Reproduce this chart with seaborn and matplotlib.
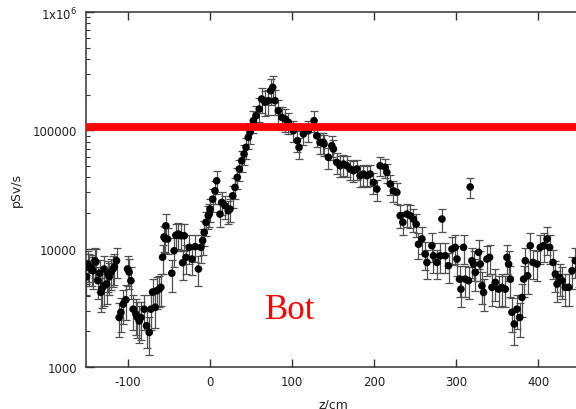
import numpy as np
import matplotlib
matplotlib.use("Agg")
import matplotlib.pyplot as plt
import seaborn as sns
from matplotlib.ticker import FixedLocator, FixedFormatter, LogLocator, NullFormatter

# ---- data ----
z_cm = [-150.4, -148.5, -147.0, -144.3, -142.9, -140.2, -139.0, -136.6, -134.5, -132.9,
        -131.5, -129.3, -128.9, -126.0, -124.0, -122.8, -120.7, -118.0, -116.5, -113.8,
        -110.6, -108.5, -105.7, -102.4, -100.4, -98.5, -96.3, -93.5, -90.2, -88.7,
        -86.2, -84.1, -80.1, -77.2, -74.0, -72.0, -69.9, -66.7, -65.0, -61.8,
        -59.8, -57.7, -56.0, -54.9, -53.7, -51.6, -46.5, -43.7, -41.5, -38.5,
        -35.4, -33.3, -31.3, -29.3, -25.2, -22.0, -18.0, -14.0, -11.0, -8.9,
        -7.0, -4.9, -2.1, -0.8, 0.0, 3.3, 6.1, 8.2, 12.2, 14.3,
        18.3, 22.3, 24.4, 27.7, 30.5, 33.3, 35.7, 38.7, 41.5, 43.9,
        46.7, 48.8, 52.8, 56.1, 60.1, 63.0, 67.1, 71.1, 74.0, 76.5,
        79.3, 83.3, 87.4, 91.5, 95.5, 101.6, 106.5, 108.5, 113.8, 119.9,
        126.8, 130.1, 134.1, 138.2, 139.0, 144.3, 148.4, 150.4, 154.5, 158.5,
        162.6, 166.7, 170.7, 174.8, 178.9, 182.9, 187.0, 191.1, 195.1, 199.1,
        203.3, 207.3, 213.4, 215.5, 219.5, 223.5, 227.7, 231.7, 235.0, 239.9,
        243.9, 247.9, 251.2, 254.0, 258.2, 262.2, 264.3, 270.4, 272.3, 276.5,
        280.5, 282.6, 286.6, 290.6, 294.8, 298.8, 300.9, 304.0, 305.7, 308.9,
        311.0, 315.0, 317.0, 319.1, 321.1, 323.2, 327.2, 329.3, 331.3, 333.3,
        337.4, 340.6, 343.5, 347.6, 351.6, 355.7, 359.8, 361.8, 363.8, 365.9,
        367.9, 370.7, 374.0, 377.2, 380.1, 382.1, 384.1, 387.0, 390.2, 393.5,
        398.4, 402.4, 406.5, 410.6, 413.8, 417.9, 420.7, 422.8, 426.0, 428.9,
        432.9, 437.0, 441.1, 445.1, 449.0]

dose_psv_s = [5790, 7400, 6900, 6860, 6510, 7910, 7710, 5360, 6200, 4270,
              4600, 4860, 6730, 5030, 6100, 5780, 6340, 6730, 7000, 7910,
              2620, 2900, 3400, 3700, 6730, 6340, 5360, 3080, 2800, 2640,
              2450, 2620, 3080, 2230, 1960, 3080, 4300, 3200, 4410, 4550,
              4710, 8470, 12540, 12200, 15600, 12060, 6200, 9600, 13000, 13300,
              12860, 7600, 12860, 8440, 10260, 8170, 10400, 6730, 10260, 11700,
              13740, 16700, 18970, 19600, 21600, 26200, 30850, 37490, 19590, 24600,
              23050, 20900, 21600, 27990, 32950, 40050, 47090, 55340, 63060, 71800,
              87300, 96200, 120600, 132800, 151300, 184000, 172500, 178000, 216200, 230800,
              178000, 146500, 128700, 124600, 116900, 99300, 81700, 71800, 93100, 99300,
              120600, 89900, 79200, 79200, 76600, 59100, 74200, 69500, 53600, 50200,
              51900, 50200, 47100, 45600, 47100, 41300, 42700, 41300, 42700, 36300,
              31900, 50200, 48700, 44100, 35200, 30800, 29900, 19000, 16700, 19600,
              19000, 17800, 16100, 10900, 12100, 9000, 7650, 10600, 8710, 7650,
              8710, 17800, 8710, 7180, 9930, 10260, 8170, 5530, 4550, 10260,
              5530, 5360, 33200, 7910, 7410, 6310, 9310, 7410, 4860, 4270,
              8170, 8440, 4710, 5190, 4550, 4710, 4550, 8440, 7410, 5530,
              2900, 2310, 3080, 2620, 3870, 5530, 7910, 5900, 10600, 7650,
              7410, 10260, 10600, 12060, 10260, 7650, 6100, 5020, 5710, 5360,
              4710, 4710, 6510, 7910, 6800]

rel_err = [0.30, 0.30, 0.30, 0.30, 0.30, 0.28, 0.28, 0.30, 0.30, 0.32,
           0.32, 0.32, 0.30, 0.32, 0.30, 0.30, 0.30, 0.30, 0.30, 0.28,
           0.32, 0.32, 0.32, 0.32, 0.28, 0.28, 0.30, 0.33, 0.33, 0.33,
           0.35, 0.35, 0.33, 0.35, 0.35, 0.33, 0.30, 0.33, 0.30, 0.30,
           0.30, 0.28, 0.25, 0.25, 0.25, 0.25, 0.30, 0.27, 0.25, 0.25,
           0.25, 0.28, 0.25, 0.27, 0.27, 0.27, 0.26, 0.28, 0.26, 0.25,
           0.24, 0.23, 0.22, 0.22, 0.22, 0.22, 0.22, 0.22, 0.22, 0.22,
           0.22, 0.22, 0.22, 0.21, 0.20, 0.20, 0.20, 0.20, 0.20, 0.20,
           0.20, 0.20, 0.21, 0.22, 0.23, 0.24, 0.24, 0.24, 0.25, 0.25,
           0.24, 0.23, 0.22, 0.22, 0.21, 0.20, 0.20, 0.20, 0.20, 0.20,
           0.20, 0.20, 0.20, 0.20, 0.20, 0.20, 0.20, 0.20, 0.20, 0.20,
           0.20, 0.20, 0.20, 0.20, 0.20, 0.20, 0.20, 0.20, 0.20, 0.20,
           0.20, 0.18, 0.18, 0.18, 0.20, 0.20, 0.20, 0.22, 0.22, 0.22,
           0.22, 0.22, 0.22, 0.25, 0.25, 0.27, 0.28, 0.27, 0.28, 0.28,
           0.28, 0.22, 0.28, 0.28, 0.27, 0.27, 0.28, 0.30, 0.30, 0.27,
           0.30, 0.30, 0.20, 0.28, 0.28, 0.30, 0.27, 0.28, 0.30, 0.30,
           0.28, 0.28, 0.30, 0.30, 0.30, 0.30, 0.30, 0.28, 0.28, 0.30,
           0.32, 0.33, 0.32, 0.32, 0.31, 0.30, 0.28, 0.30, 0.27, 0.28,
           0.28, 0.27, 0.27, 0.26, 0.27, 0.28, 0.30, 0.30, 0.30, 0.30,
           0.30, 0.30, 0.30, 0.28, 0.30]

limit_value = 107000
y_tick_values = [1000, 10000, 100000, 1000000]
y_tick_labels = ["1000", "10000", "100000", "1x10$^{6}$"]
x_tick_values = [-100, 0, 100, 200, 300, 400]
label_text = "Bot"

# ---- plotting ----
sns.set_style("ticks")
plt.rcParams["font.family"] = ["DejaVu Sans"]
plt.rcParams["mathtext.fontset"] = "dejavusans"
plt.rcParams["axes.unicode_minus"] = False

z = np.array(z_cm)
d = np.array(dose_psv_s, dtype=float)
err = d * np.array(rel_err)

fig = plt.figure(figsize=(5.76, 4.10), dpi=100)
ax = fig.add_axes([86 / 576, 42 / 410, (581 - 86) / 576, (368 - 13) / 410])

ax.errorbar(z, d, yerr=err, fmt="none", ecolor="#505050", elinewidth=0.9,
            capsize=2.6, capthick=0.9, zorder=2)
sns.scatterplot(x=z, y=d, ax=ax, color="black", s=30, linewidth=0,
                edgecolor="none", zorder=3, legend=False)
ax.axhline(limit_value, color="#ff0000", lw=5.6, zorder=4)

ax.set_yscale("log")
ax.set_xlim(-151, 452)
ax.set_ylim(1000, 1e6)

ax.yaxis.set_major_locator(FixedLocator(y_tick_values))
ax.yaxis.set_major_formatter(FixedFormatter(y_tick_labels))
ax.yaxis.set_minor_locator(LogLocator(base=10, subs=np.arange(2, 10)))
ax.yaxis.set_minor_formatter(NullFormatter())
ax.set_xticks(x_tick_values)

for s in ["left", "bottom", "top"]:
    ax.spines[s].set_color("#333333")
    ax.spines[s].set_linewidth(1.1)
ax.spines["right"].set_visible(False)

ax.tick_params(axis="both", which="major", direction="in", length=6, width=1,
               color="#333333", labelsize=8.5, labelcolor="#222222")
ax.tick_params(axis="x", which="major", top=True, pad=6)
ax.tick_params(axis="y", which="major", pad=6.5)
ax.tick_params(axis="y", which="minor", direction="in", length=3, width=0.8,
               color="#333333", left=True, right=False)
ax.tick_params(axis="x", which="minor", bottom=False, top=False)

ax.set_xlabel("z/cm", fontsize=9, color="#222222")
ax.set_ylabel("pSv/s", fontsize=9, color="#222222")
ax.xaxis.set_label_coords(0.5, -0.085)
ax.yaxis.set_label_coords(-0.128, 0.5)

ax.text(97.4, 2590, label_text, color="#ff0000", fontsize=25,
        family=["Liberation Serif", "DejaVu Serif"], ha="center", va="baseline",
        zorder=5)

fig.savefig("out.png", dpi=100)
